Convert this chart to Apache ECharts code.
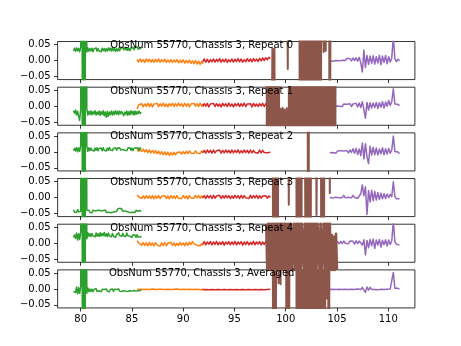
<!DOCTYPE html>
<html>
<head>
<meta charset="utf-8">
<script src="https://cdn.jsdelivr.net/npm/echarts@6/dist/echarts.min.js"></script>
<style>
  html, body { margin: 0; padding: 0; background: #fff; }
  #chart { width: 461px; height: 346px; }
</style>
</head>
<body>
<div id="chart"></div>
<script>
// Observation identity and panel captions
const obsNum = 55770;
const chassis = 3;
const panelNames = ['Repeat 0', 'Repeat 1', 'Repeat 2', 'Repeat 3', 'Repeat 4', 'Averaged'];

// Axis limits and tick labels
const xLimits = [77.75, 112.6];
const yLimits = [-0.06, 0.06];
const xTicks = [80, 85, 90, 95, 100, 105, 110];
const yTicks = [-0.05, 0, 0.05];
const captionFreq = 91.8;

// Frequency span (first, last channel) of each band segment
const greenSpan = [79.3, 85.9];
const orangeSpan = [85.5, 91.95];
const redSpan = [91.9, 98.5];
const purpleSpan = [104.3, 111.1];
const brownStart = 98.1;
const brownStep = 0.1;

// Spectra, in thousandths; +/-900 are channels far off the plotted scale,
// null marks a flagged channel
const green0 = [30, 39, 29, 40, 31, 38, 28, 41, 900, -900,
  900, -900, 900, 27, 40, 29, 38, 30, 39, 28,
  37, 31, 40, 29, 38, 30, 36, 28, 39, 31,
  38, 29, 37, 30, 40, 32, 39, 30, 41, 31,
  38, 29, 37, 30, 39, 31, 38, 33, 42, 34,
  41, 33, 40, 32, 39, 31, 38, 33, 42, 34,
  41, 35, 43, 36, 42, 37, 41];
const orange0 = [4, -5, 5, -4, 3, -6, 5, -3, 4, -5,
  3, -6, 4, -4, 5, -5, 3, -4, 4, -6,
  2, -5, 3, -6, 2, -5, 3, -7, 1, -6,
  2, -8, 0, -7, 1, -9, -1, -10, 0, -11,
  -2, -12, -3, -10];
const red0 = [-4, 5, -5, 4, -6, 3, -4, 5, -5, 4,
  -3, 6, -5, 4, -4, 5, -6, 3, -4, 5,
  -5, 4, -3, 6, -4, 5, -5, 3, -4, 6,
  -3, 5, -4, 6, -2, 5, -3, 7, -1, 8,
  0, 9, 2, 10, 6];
const purple0 = [-1, 5, -2, 4, 0, 6, -1, 5, 1, 6,
  0, 7, 1, 6, -1, 8, 0, 9, -2, 10,
  -8, -36, 33, -22, 16, -12, 14, -9, 15, -11,
  12, -8, 17, -13, 14, -6, 16, -10, 12, -5,
  9, 75, 5, -3, 4, -1];
const brown0 = [-900, -900, -900, -900, -900, -900, 38, -900, 38, -900,
  null, 900, 900, 900, 900, 900, 900, 900, 900, 900,
  900, -27, 900, 900, 900, 900, 900, 900, 900, 900,
  900, 900, 900, -900, 900, 900, -900, 900, -900, 900,
  -900, 900, -900, 900, -900, 900, -900, 900, -900, 900,
  900, -900, 900, -900, 900, 900, 27, 900, 30, 900,
  900, 900, -900, 900, 900, 900, 900, 900, 900, 900];

const green1 = [-14, -22, -12, -28, -16, -32, -45, -10, 900, -900,
  900, -900, 900, -8, -28, -16, -26, -15, -27, -17,
  -25, -14, -28, -18, -26, -15, -29, -17, -26, -14,
  -30, -18, -35, -16, -32, -18, -27, -15, -28, -17,
  -26, -14, -25, -16, -27, -15, -24, -17, -22, -30,
  -18, -26, -15, -29, -17, -27, -14, -25, -16, -28,
  -15, -26, -17, -24, -15, -23, -19];
const orange1 = [-9, 4, -1, 8, -2, 7, 0, 9, -1, 8,
  -2, 7, 1, 9, -1, 8, 0, 10, -1, 7,
  -2, 8, 1, 9, -1, 8, 0, 10, 1, 8,
  -1, 9, 0, 8, -2, 7, 1, 9, 0, 8,
  -1, 9, 1, 7];
const red1 = [-1, 8, 0, 9, -2, 7, 1, 9, -1, 8,
  0, 7, -2, 9, 1, 8, -1, 10, 0, 7,
  -2, 8, 1, 9, -1, 8, 0, 10, -1, 7,
  1, 8, -2, 9, 0, 7, -1, 8, 1, 9,
  -1, 8, 0, 7, 2];
const purple1 = [0, 6, -1, 5, 1, 7, 0, 6, -1, 7,
  1, 6, 0, 8, -1, 7, 2, 9, -2, 10,
  -4, 14, -10, -38, 12, -12, 11, -6, 10, -4,
  12, -7, 11, -3, 14, -6, 13, 0, 18, 2,
  14, 55, 7, 1, 6, 2];
const brown1 = [900, -900, 900, -900, 900, -900, 900, -900, 900, -900,
  900, -900, 900, -900, -8, -900, -5, -900, -10, -900,
  -6, -900, -4, 900, -900, 900, -900, 900, 900, -900,
  900, -900, 900, -900, 900, -900, -900, 900, -900, 900,
  -900, 900, -900, 900, -900, 900, 900, -900, 900, -900,
  900, -900, -900, 900, -900, 900, -900, 900, 900, -900,
  900, -900, 900, -900, 900, -900, 900, -900, 900, 900];

const green2 = [4, 11, 3, 14, 0, 12, 2, 20, 900, -900,
  900, -900, 900, 18, 2, 13, 4, 12, 5, 11,
  3, 12, 5, 13, 4, 11, 6, 12, 4, 13,
  5, 11, 3, 12, 5, 14, 6, 12, 4, 11,
  6, 13, 5, 12, 7, 13, 6, 12, 8, 13,
  5, 11, 4, 12, 6, 13, 5, 12, 4, 11,
  6, 13, 7, 12, 5, 13, 10];
const orange2 = [9, 2, 10, 1, 8, 0, 7, -2, 6, -3,
  5, -4, 4, -6, 2, -7, 1, -9, 0, -10,
  -1, -11, -2, -10, -1, -9, -2, -8, 0, -7,
  1, -6, 2, -5, 3, -4, 2, -5, 3, -4,
  2, -5, 3, -3];
const red2 = [-3, 5, -4, 6, -2, 5, -4, 6, -3, 4,
  -2, 6, -4, 5, -3, 6, -2, 5, -4, 6,
  -3, 5, -2, 6, -4, 4, -3, 6, -2, 5,
  -4, 6, -3, 5, -2, 4, -4, 6, -3, 5,
  -2, 4, -3, 3, -1];
const purple2 = [-3, 3, -2, 2, -4, 3, -2, 4, -1, 3,
  -2, 4, -3, 6, -2, 10, -4, 11, -8, 9,
  -12, 28, -22, 26, -15, -37, 18, -10, 14, -9,
  12, -10, 9, -6, 13, -9, 10, -7, 11, -4,
  6, 50, 1, -4, 0, -6];
const brown2 = [900, 900, 900, 900, 900, 900, 900, 900, 900, 900,
  900, 900, 900, 900, 900, 900, 900, 900, 900, 900,
  900, 900, 900, 900, 900, 900, 900, 900, 900, 900,
  900, 900, 900, 900, 900, 900, 900, 900, 900, 900,
  900, -900, 900, 900, 900, 900, 900, 900, 900, 900,
  900, 900, 900, 900, 900, 900, 900, 900, 900, 900,
  900, 900, 900, 900, 900, 900, 900, 900, 900, 900];

const green3 = [-39, -46, -40, -47, -38, -45, -40, -44, 900, -900,
  900, -900, 900, -40, -46, -40, -47, -41, -48, -40,
  -46, -42, -48, -41, -47, -40, -46, -42, -48, -41,
  -45, -39, -47, -41, -46, -40, -48, -42, -46, -41,
  -45, -39, -44, -36, -42, -34, -40, -35, -43, -38,
  -42, -36, -44, -40, -46, -40, -47, -41, -46, -42,
  -47, -40, -46, -43, -47, -41, -44];
const orange3 = [9, 2, 6, -2, 5, -3, 6, -2, 5, -3,
  6, -4, 5, -2, 6, -3, 4, -2, 6, -3,
  5, -4, 6, -2, 5, -3, 6, -2, 4, -3,
  6, -2, 5, -4, 6, -1, 5, -2, 7, -1,
  6, -2, 5, -1];
const red3 = [-2, 6, -3, 7, -1, 6, -3, 7, -2, 5,
  -1, 7, -3, 6, -2, 7, -1, 6, -3, 5,
  -2, 7, -1, 6, -3, 7, -2, 6, -1, 5,
  -3, 7, -2, 6, -1, 7, -3, 6, -2, 5,
  -1, 6, -2, 5, 0];
const purple3 = [0, 6, -1, 5, 1, 6, -1, 5, 0, 7,
  -1, 5, 1, 6, -1, 7, 0, 6, -2, 5,
  12, 40, 6, 34, -53, 22, -14, 23, -10, 19,
  -8, 16, -6, 14, -4, 12, -3, 11, 0, 10,
  3, 50, 4, -4, -7, -4];
const brown3 = [900, 900, 900, 900, 900, 900, 900, -900, 900, -900,
  900, -900, 900, 900, 900, 900, 900, 900, 900, 900,
  900, 900, -23, 900, 900, 900, 900, 900, 900, 900,
  -900, 900, -900, 900, -900, 900, 900, 900, 900, -900,
  900, -900, 900, -900, 900, 900, 900, 900, 900, -55,
  -50, 900, 900, 900, -900, 900, -900, 900, 900, 900,
  900, 900, 14, 900, 900, 900, 900, 900, 900, 900];

const green4 = [18, 26, 16, 32, 10, 30, 12, 34, 900, -900,
  900, -900, 900, 14, 33, 22, 30, 21, 31, 23,
  29, 20, 32, 22, 30, 21, 33, 23, 31, 24,
  34, 22, 30, 21, 32, 23, 29, 20, 31, 22,
  28, 19, 27, 21, 33, 24, 30, 22, 31, 23,
  29, 21, 32, 24, 30, 22, 28, 19, 27, 21,
  26, 18, 27, 20, 25, 19, 23];
const orange4 = [8, 1, 3, -6, 2, -7, 1, -8, 2, -7,
  1, -8, 2, -6, 0, -9, 1, -7, 2, -8,
  0, -6, 3, -7, 1, -8, 0, -7, 2, -6,
  1, -8, 2, -7, 3, -4, 5, -2, 4, -6,
  0, -8, -1, -7];
const red4 = [-4, 5, -5, 4, -3, 5, -5, 4, -4, 6,
  -5, 3, -4, 5, -6, 4, -3, 5, -5, 4,
  -4, 6, -5, 4, -3, 5, -6, 4, -4, 5,
  -5, 3, -4, 6, -5, 4, -3, 5, -5, 4,
  -4, 5, -3, 4, -2];
const purple4 = [-1, 5, -2, 6, 0, 5, -2, 6, -1, 7,
  0, 5, -2, 7, 1, 6, -3, 8, -1, 7,
  13, -6, 11, -37, 9, -14, 12, -8, 13, -16,
  10, -6, 12, -12, 9, -5, 11, -9, 10, -4,
  7, 70, 4, -3, 3, -6];
// this repeat's saturated channels spill past its frame, so they are kept near the frame edges
const brown4 = [61, -84, 61, -84, 61, -84, 61, -84, 61, -84,
  61, -84, 61, -84, 61, -84, 61, -84, 61, -84,
  61, -84, 61, -84, 61, -84, -84, 61, -84, 61,
  -84, 61, -84, 61, -84, 61, 61, -84, 61, -84,
  61, -84, 61, -84, 61, -84, 61, -84, 61, -84,
  61, 61, -84, 61, -84, -84, 61, -84, 61, -84,
  61, -84, 61, -84, 26, -84, 20, -84, 30, -84];

const green5 = [-8, -2, -12, 6, -16, 4, -14, 8, 900, -900,
  900, -900, 900, -14, 3, -9, 0, -8, -1, -9,
  -2, -7, 1, -8, -2, -6, 0, -9, -1, -7,
  -2, -8, 0, -7, -1, -9, -2, -6, 0, -8,
  -1, -7, -2, -6, 0, -7, -1, -8, -2, -6,
  0, -7, -1, -8, -2, -6, 0, -7, -1, -5,
  -3, -7, -1, -6, -2, -5, -3];
const orange5 = [-2, 3, -1, 4, -2, 3, -1, 4, -2, 3,
  0, 4, -2, 3, -1, 4, -1, 3, -2, 4,
  -1, 3, -2, 4, -1, 3, 0, 4, -2, 3,
  -1, 3, -2, 4, -1, 3, -2, 3, -1, 2,
  -2, 2, -3, 1];
const red5 = [-3, 3, -2, 3, -3, 2, -2, 3, -3, 2,
  -2, 3, -3, 2, -2, 3, -3, 3, -2, 2,
  -3, 3, -2, 2, -3, 3, -2, 3, -3, 2,
  -2, 3, -3, 2, -2, 3, -3, 2, -2, 3,
  -3, 2, -2, 3, -1];
const purple5 = [-2, 2, -1, 3, -2, 2, -1, 3, -2, 2,
  -1, 4, -2, 3, -1, 4, -2, 3, 0, 4,
  -2, 5, -4, -11, 6, -4, 5, -2, 4, -2,
  4, -3, 3, -1, 5, -2, 4, -1, 5, 0,
  3, 52, 2, -2, 2, -1];
const brown5 = [900, 900, 900, 900, 900, 900, 900, -900, 900, -900,
  900, 900, 18, 900, 15, 900, 900, 900, 900, 900,
  -900, 900, -900, 900, 900, 900, 900, 900, 900, 900,
  -900, 900, -900, 900, -900, 900, 900, -900, 900, -900,
  900, -900, 900, -900, 900, -900, 900, 900, -900, 900,
  -900, 900, -900, -900, 900, -900, 900, -900, 900, -30,
  900, -900, 900, 900, 900, 900, 900, 900, 900, 900];

const greenRows = [green0, green1, green2, green3, green4, green5];
const orangeRows = [orange0, orange1, orange2, orange3, orange4, orange5];
const redRows = [red0, red1, red2, red3, red4, red5];
const purpleRows = [purple0, purple1, purple2, purple3, purple4, purple5];
const brownRows = [brown0, brown1, brown2, brown3, brown4, brown5];

const toUnits = v => (v === null ? null : v / 1000);

// Pair each value with its channel frequency
function spanTrace(span, vals) {
  const step = (span[1] - span[0]) / (vals.length - 1);
  return vals.map((v, i) => [span[0] + i * step, toUnits(v)]);
}
function stepTrace(start, step, vals) {
  return vals.map((v, i) => [start + i * step, toUnits(v)]);
}

// Stacked panel layout
const W = 461, H = 346;
const plotLeft = 0.125 * W, plotRight = 0.9 * W;
const plotTop = 0.12 * H, plotBottom = 0.89 * H;
const nPanels = panelNames.length;
const panelH = (plotBottom - plotTop) / (nPanels + (nPanels - 1) * 0.2);
const gapH = 0.2 * panelH;
const plotW = plotRight - plotLeft;
const FONT = '"DejaVu Sans", sans-serif';

const colors = {
  orange: '#ff7f0e', green: '#2ca02c', red: '#d62728', purple: '#9467bd', brown: '#8c564b'
};

const grids = [], xAxes = [], yAxes = [], series = [], graphics = [];

function fmtY(v) {
  const s = Math.abs(v).toFixed(2);
  return v < -1e-9 ? '\u2212' + s : s;
}

function lineSeries(p, data, color, clip, width) {
  return {
    type: 'line', xAxisIndex: p, yAxisIndex: p, data,
    symbol: 'none', showSymbol: false, clip, silent: true, animation: false,
    connectNulls: false,
    lineStyle: { color, width, join: 'round' }, itemStyle: { color }
  };
}

panelNames.forEach((name, p) => {
  const top = plotTop + p * (panelH + gapH);
  const last = p === nPanels - 1;
  grids.push({
    left: plotLeft, top, width: plotW, height: panelH,
    show: true, borderColor: '#000', borderWidth: 0.8, backgroundColor: 'transparent'
  });
  xAxes.push({
    gridIndex: p, type: 'value', min: xLimits[0], max: xLimits[1],
    axisLine: { show: false, onZero: false },
    splitLine: { show: false },
    axisTick: { show: true, inside: false, length: 3.5, customValues: xTicks,
      lineStyle: { color: '#000', width: 0.8 } },
    axisLabel: { show: last, customValues: xTicks, margin: 6, fontSize: 10,
      color: '#000', fontFamily: FONT }
  });
  yAxes.push({
    gridIndex: p, type: 'value', min: yLimits[0], max: yLimits[1],
    axisLine: { show: false, onZero: false },
    splitLine: { show: false },
    axisTick: { show: true, inside: false, length: 3.5, customValues: yTicks,
      lineStyle: { color: '#000', width: 0.8 } },
    axisLabel: { show: true, customValues: yTicks, margin: 7, fontSize: 10,
      color: '#000', fontFamily: FONT, formatter: fmtY }
  });

  const spills = p === 4;
  series.push(lineSeries(p, spanTrace(orangeSpan, orangeRows[p]), colors.orange, true, 1.5));
  series.push(lineSeries(p, spanTrace(greenSpan, greenRows[p]), colors.green, true, 1.5));
  series.push(lineSeries(p, spanTrace(redSpan, redRows[p]), colors.red, true, 1.5));
  series.push(lineSeries(p, spanTrace(purpleSpan, purpleRows[p]), colors.purple, true, 1.5));
  series.push(lineSeries(p, stepTrace(brownStart, brownStep, brownRows[p]), colors.brown,
    !spills, spills ? 2.6 : 2));

  const cx = plotLeft + (captionFreq - xLimits[0]) / (xLimits[1] - xLimits[0]) * plotW;
  graphics.push({
    type: 'text', x: cx, y: top - 1, z: 100, silent: true,
    style: {
      text: `ObsNum ${obsNum}, Chassis ${chassis}, ${name}`,
      fill: '#000', font: '10px ' + FONT, align: 'center', verticalAlign: 'top'
    }
  });
});

const chart = echarts.init(document.getElementById('chart'), null, { renderer: 'canvas' });
chart.setOption({
  animation: false,
  backgroundColor: '#fff',
  textStyle: { fontFamily: FONT },
  grid: grids,
  xAxis: xAxes,
  yAxis: yAxes,
  series,
  graphic: graphics
});
</script>
</body>
</html>
